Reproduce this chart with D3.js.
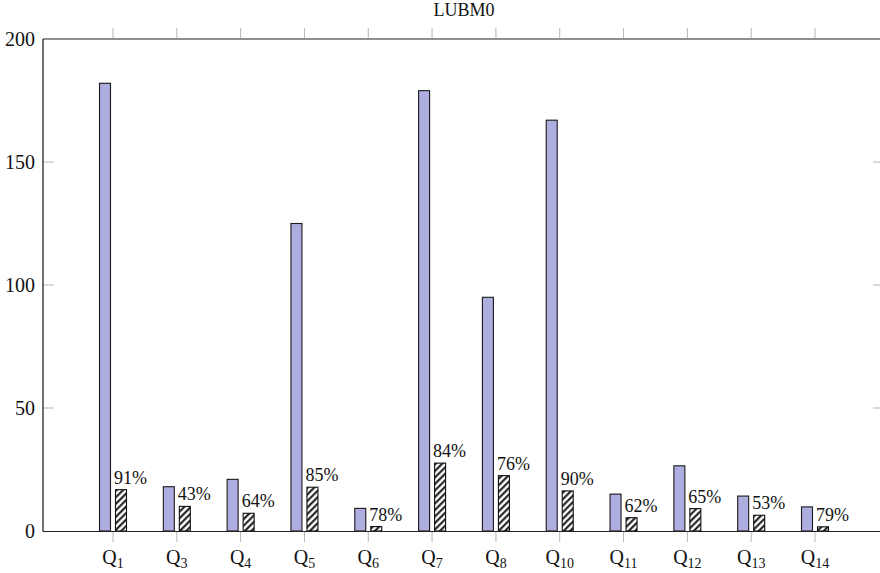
<!DOCTYPE html>
<html>
<head>
<meta charset="utf-8">
<script src="https://cdn.jsdelivr.net/npm/d3@7"></script>
<style>
  body { margin: 0; background: white; }
</style>
</head>
<body>
<div id="chart"></div>
<script>
var queries = ["Q1", "Q3", "Q4", "Q5", "Q6", "Q7", "Q8", "Q10", "Q11", "Q12", "Q13", "Q14"];
var totals = [182, 18, 21, 125, 9.2, 179, 95, 167, 15, 26.5, 14.2, 9.8];
var reduced = [16.8, 10, 7.2, 17.8, 1.8, 27.6, 22.5, 16.3, 5.4, 9.1, 6.4, 1.7];
var percents = ["91%", "43%", "64%", "85%", "78%", "84%", "76%", "90%", "62%", "65%", "53%", "79%"];
var yTicks = [0, 50, 100, 150, 200];

var width = 880, height = 573;
var plotLeft = 43, plotRight = 880, plotTop = 39, plotBottom = 531;
var serif = "'Liberation Serif', 'Times New Roman', serif";

var svg = d3.select("#chart").append("svg")
    .attr("width", width)
    .attr("height", height)
    .attr("font-family", serif);

var defs = svg.append("defs");
var pat = defs.append("pattern")
    .attr("id", "hatch")
    .attr("patternUnits", "userSpaceOnUse")
    .attr("width", 4.6)
    .attr("height", 4.6)
    .attr("patternTransform", "rotate(45)");
pat.append("rect").attr("width", 4.6).attr("height", 4.6).attr("fill", "white");
pat.append("line")
    .attr("x1", 1.2).attr("y1", 0).attr("x2", 1.2).attr("y2", 4.6)
    .attr("stroke", "#111").attr("stroke-width", 2.0);

var x = d3.scalePoint()
    .domain(queries)
    .range([113, 815]);

var y = d3.scaleLinear()
    .domain([0, 200])
    .range([plotBottom, plotTop]);

var barW = 11;

// title
svg.append("text")
    .attr("x", 464)
    .attr("y", 16)
    .attr("text-anchor", "middle")
    .style("font-size", "18px")
    .attr("fill", "#111")
    .text("LUBM0");

// tick marks (gray)
var tickCol = "#b5b5b5";
svg.selectAll(".xtb")
    .data(queries)
  .enter().append("line")
    .attr("x1", function(d) { return x(d); })
    .attr("x2", function(d) { return x(d); })
    .attr("y1", plotBottom + 1)
    .attr("y2", plotBottom + 11)
    .attr("stroke", tickCol);
svg.selectAll(".xtt")
    .data(queries)
  .enter().append("line")
    .attr("x1", function(d) { return x(d); })
    .attr("x2", function(d) { return x(d); })
    .attr("y1", plotTop - 1)
    .attr("y2", plotTop - 11)
    .attr("stroke", tickCol);
svg.selectAll(".ytl")
    .data(yTicks.slice(1, 4))
  .enter().append("line")
    .attr("x1", plotLeft)
    .attr("x2", plotLeft + 11)
    .attr("y1", function(d) { return y(d); })
    .attr("y2", function(d) { return y(d); })
    .attr("stroke", tickCol);
svg.selectAll(".ytr")
    .data(yTicks.slice(1, 4))
  .enter().append("line")
    .attr("x1", plotRight - 7)
    .attr("x2", plotRight)
    .attr("y1", function(d) { return y(d); })
    .attr("y2", function(d) { return y(d); })
    .attr("stroke", tickCol);

// bars
svg.selectAll(".total")
    .data(queries)
  .enter().append("rect")
    .attr("x", function(d) { return x(d) - 13.5; })
    .attr("y", function(d, i) { return y(totals[i]); })
    .attr("width", barW)
    .attr("height", function(d, i) { return y(0) - y(totals[i]); })
    .attr("fill", "#adaddf")
    .attr("stroke", "#1a1a1a")
    .attr("stroke-width", 1.1);

svg.selectAll(".reduced")
    .data(queries)
  .enter().append("rect")
    .attr("x", function(d) { return x(d) + 2.5; })
    .attr("y", function(d, i) { return y(reduced[i]); })
    .attr("width", barW)
    .attr("height", function(d, i) { return y(0) - y(reduced[i]); })
    .attr("fill", "url(#hatch)")
    .attr("stroke", "#111")
    .attr("stroke-width", 1.1);

svg.selectAll(".pct")
    .data(queries)
  .enter().append("text")
    .attr("x", function(d) { return x(d) + 1; })
    .attr("y", function(d, i) { return y(reduced[i]) - 6; })
    .attr("fill", "#111")
    .style("font-size", "18px")
    .text(function(d, i) { return percents[i]; });

// axes lines
svg.append("line")
    .attr("x1", plotLeft).attr("x2", plotLeft)
    .attr("y1", plotTop).attr("y2", plotBottom + 0.5)
    .attr("stroke", "#111").attr("stroke-width", 1.2);
svg.append("line")
    .attr("x1", plotLeft).attr("x2", plotRight)
    .attr("y1", plotTop).attr("y2", plotTop)
    .attr("stroke", "#222").attr("stroke-width", 1.2);
svg.append("line")
    .attr("x1", plotLeft).attr("x2", plotRight)
    .attr("y1", plotBottom + 0.5).attr("y2", plotBottom + 0.5)
    .attr("stroke", "#222").attr("stroke-width", 1.2);

// y labels
svg.selectAll(".ylab")
    .data(yTicks)
  .enter().append("text")
    .attr("x", 35)
    .attr("y", function(d) { return y(d) + 7; })
    .attr("text-anchor", "end")
    .attr("fill", "#111")
    .style("font-size", "20px")
    .text(function(d) { return d; });

// x labels with subscripts
var xl = svg.selectAll(".xlab")
    .data(queries)
  .enter().append("text")
    .attr("x", function(d) { return x(d); })
    .attr("y", 564)
    .attr("text-anchor", "middle")
    .attr("fill", "#111")
    .style("font-size", "20px");
xl.append("tspan").text("Q");
xl.append("tspan")
    .attr("dy", 4)
    .style("font-size", "14px")
    .text(function(d) { return d.slice(1); });
</script>
</body>
</html>
